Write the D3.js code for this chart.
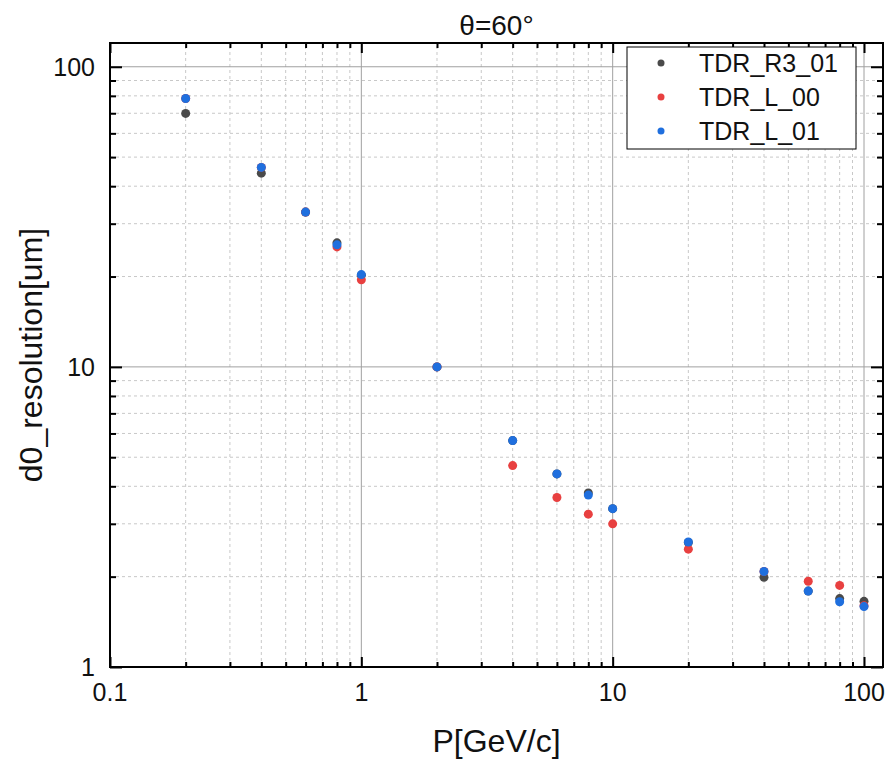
<!DOCTYPE html>
<html>
<head>
<meta charset="utf-8">
<script src="https://cdn.jsdelivr.net/npm/d3@7"></script>
<style>
  body { margin: 0; background: #fff; }
  text { font-family: "Liberation Sans", Arial, sans-serif; fill: #111; }
</style>
</head>
<body>
<svg id="chart" width="889" height="759"></svg>
<script>
// momentum points [GeV/c]
const momentum = [0.2, 0.4, 0.6, 0.8, 1, 2, 4, 6, 8, 10, 20, 40, 60, 80, 100];
// d0 resolution [um] per layout
const tdrR3_01 = [69.9, 44.2, 32.8, 25.9, 20.2, 10.0, 5.68, 4.40, 3.80, 3.37, 2.60, 1.99, 1.79, 1.69, 1.655];
const tdrL_00  = [78.4, 46.2, 32.8, 25.1, 19.5, 10.0, 4.69, 3.67, 3.23, 3.00, 2.47, 2.08, 1.93, 1.87, 1.60];
const tdrL_01  = [78.4, 46.2, 32.8, 25.5, 20.3, 10.0, 5.68, 4.40, 3.74, 3.37, 2.61, 2.08, 1.79, 1.65, 1.59];

const seriesNames = ["TDR_R3_01", "TDR_L_00", "TDR_L_01"];
const seriesColors = ["#4a4a4a", "#e84040", "#1f6fde"];
const xTickLabels = ["0.1", "1", "10", "100"];
const yTickLabels = ["1", "10", "100"];

const allSeries = [tdrR3_01, tdrL_00, tdrL_01];

const svg = d3.select("#chart"),
   margin = {top: 43, right: 6, bottom: 92, left: 110},
   width = +svg.attr("width"),
   height = +svg.attr("height");

const x0 = margin.left, x1 = width - margin.right,
      y0 = height - margin.bottom, y1 = margin.top;

const xScale = d3.scaleLog().domain([0.1, 119]).range([x0, x1]);
const yScale = d3.scaleLog().domain([1, 120]).range([y0, y1]);

// minor tick values (2..9 per decade)
const minors = starts => starts.flatMap(d => d3.range(2, 10).map(m => m * d));
const xMinor = minors([0.1, 1, 10]);
const yMinor = minors([1, 10]);
const xMajor = xTickLabels.map(Number);
const yMajor = yTickLabels.map(Number);

// grid
const grid = svg.append("g");
grid.selectAll(".xm").data(xMinor).join("line")
   .attr("x1", d => xScale(d)).attr("x2", d => xScale(d))
   .attr("y1", y0).attr("y2", y1)
   .attr("stroke", "#c8c8c8").attr("stroke-dasharray", "3,3");
grid.selectAll(".ym").data(yMinor).join("line")
   .attr("y1", d => yScale(d)).attr("y2", d => yScale(d))
   .attr("x1", x0).attr("x2", x1)
   .attr("stroke", "#c8c8c8").attr("stroke-dasharray", "3,3");
grid.selectAll(".xM").data(xMajor.slice(1)).join("line")
   .attr("x1", d => xScale(d)).attr("x2", d => xScale(d))
   .attr("y1", y0).attr("y2", y1)
   .attr("stroke", "#a0a0a0");
grid.selectAll(".yM").data(yMajor.slice(1)).join("line")
   .attr("y1", d => yScale(d)).attr("y2", d => yScale(d))
   .attr("x1", x0).attr("x2", x1)
   .attr("stroke", "#a0a0a0");

// axes, ticks pointing inward on all four sides
function tickAxis(axisFn, scale, vals, len, transform) {
   const g = svg.append("g").attr("transform", transform)
      .call(axisFn(scale).tickValues(vals).tickSize(len).tickFormat(""));
   g.select(".domain").remove();
   g.selectAll(".tick line").attr("stroke", "#000").attr("stroke-width", 2);
   return g;
}
tickAxis(d3.axisTop, xScale, xMajor, 10, `translate(0,${y0})`);
tickAxis(d3.axisTop, xScale, xMinor, 5, `translate(0,${y0})`);
tickAxis(d3.axisBottom, xScale, xMajor, 10, `translate(0,${y1})`);
tickAxis(d3.axisBottom, xScale, xMinor, 5, `translate(0,${y1})`);
tickAxis(d3.axisRight, yScale, yMajor, 12, `translate(${x0},0)`);
tickAxis(d3.axisRight, yScale, yMinor, 6, `translate(${x0},0)`);
tickAxis(d3.axisLeft, yScale, yMajor, 12, `translate(${x1},0)`);
tickAxis(d3.axisLeft, yScale, yMinor, 6, `translate(${x1},0)`);

// frame
svg.append("rect")
   .attr("x", x0).attr("y", y1)
   .attr("width", x1 - x0).attr("height", y0 - y1)
   .attr("fill", "none").attr("stroke", "#000").attr("stroke-width", 2);

// tick labels
svg.append("g").selectAll("text").data(xTickLabels).join("text")
   .attr("x", d => xScale(+d)).attr("y", y0 + 34)
   .attr("text-anchor", "middle").attr("font-size", 25)
   .text(d => d);
svg.append("g").selectAll("text").data(yTickLabels).join("text")
   .attr("x", x0 - 15).attr("y", d => yScale(+d) + 9)
   .attr("text-anchor", "end").attr("font-size", 25)
   .text(d => d);

// titles
svg.append("text")
   .attr("x", (x0 + x1) / 2).attr("y", 35)
   .attr("text-anchor", "middle").attr("font-size", 28)
   .text("θ=60°");
svg.append("text")
   .attr("x", (x0 + x1) / 2).attr("y", 752)
   .attr("text-anchor", "middle").attr("font-size", 32)
   .text("P[GeV/c]");
svg.append("text")
   .attr("transform", `translate(42,${(y0 + y1) / 2})rotate(-90)`)
   .attr("text-anchor", "middle").attr("font-size", 32)
   .text("d0_resolution[um]");

// points
allSeries.forEach((vals, i) => {
   svg.append("g").selectAll("circle")
      .data(momentum.map((p, j) => [p, vals[j]]))
      .join("circle")
      .attr("cx", d => xScale(d[0]))
      .attr("cy", d => yScale(d[1]))
      .attr("r", 4.5)
      .attr("fill", seriesColors[i]);
});

// legend
const legend = svg.append("g").attr("transform", "translate(627,47)");
legend.append("rect")
   .attr("width", 229).attr("height", 102)
   .attr("fill", "#fff").attr("stroke", "#000").attr("stroke-width", 1);
seriesNames.forEach((name, i) => {
   const row = legend.append("g").attr("transform", `translate(0,${16 + i * 34})`);
   row.append("circle").attr("cx", 34).attr("cy", 0).attr("r", 3.5).attr("fill", seriesColors[i]);
   row.append("text").attr("x", 72).attr("y", 9).attr("font-size", 25).text(name);
});
</script>
</body>
</html>
